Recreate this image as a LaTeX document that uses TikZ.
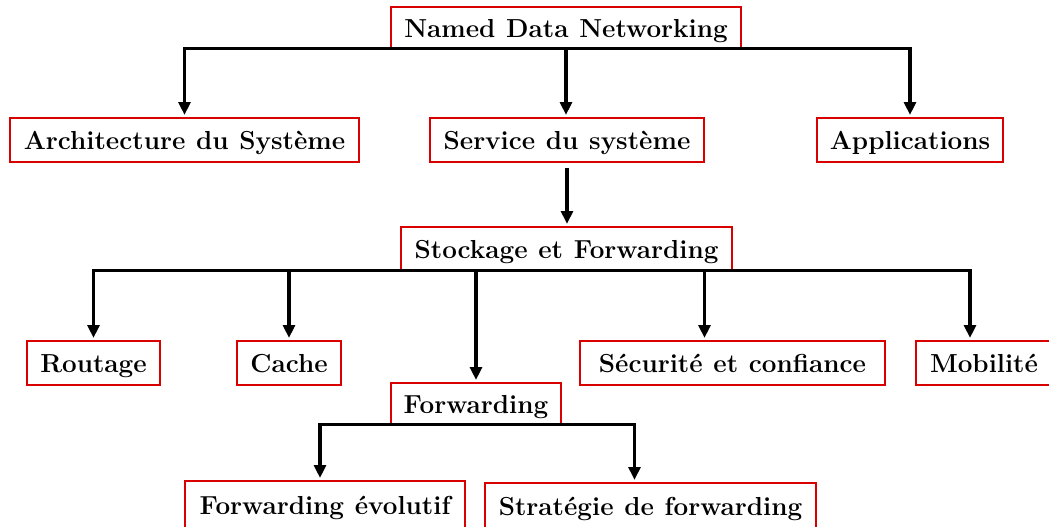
\documentclass[tikz,border=0pt]{standalone}
\usepackage{fontspec}
\usetikzlibrary{calc, arrows.meta, shadows}
\newcommand\boxfont{\fontsize{11.2}{13}\selectfont\bfseries\spaceskip=4.6pt\relax}

\begin{document}
\begin{tikzpicture}[x=0.43pt, y=-0.43pt]
    \tikzset{
      box/.style={draw=red!85!black, line width=0.6pt, fill=white, inner sep=0pt,
        minimum width=#1, minimum height=18.9pt, text height=8.3pt, text depth=0pt,
        drop shadow={shadow xshift=0.6pt, shadow yshift=-0.6pt, fill=black!40, opacity=0.5},
        font=\boxfont},
      link/.style={line width=1.4pt, -{Triangle[length=5.5pt, width=5pt]}, shorten >=1pt},
    }
    \useasboundingbox (0,0) rectangle (1049,527);

    % first level
    \node [box=150.5pt, minimum height=17.6pt] (ndn) at (566,27.5) {Named Data Networking};
    \node [box=150.1pt] (arch)  at (184.5,140) {Architecture du Système};
    \node [box=117.8pt] (serv)  at (567,140)   {Service du système};
    \node [box=80pt]    (appl)  at (910,140)   {Applications};

    % storage and forwarding
    \node [box=142.3pt, minimum height=18.5pt] (stock) at (566.5,248.5) {Stockage et Forwarding};
    \node [box=57.2pt]  (rout)  at (93.5,363)  {Routage};
    \node [box=44.7pt]  (cache) at (289,363)   {Cache};
    \node [box=131.2pt] (secu)  at (732.5,363) {Sécurité et confiance};
    \node [box=58.5pt]  (mob)   at (984,363)   {Mobilité};
    \node [box=73.1pt, minimum height=17.6pt] (fwd) at (476,403.5) {Forwarding};

    % forwarding
    \node [box=120.4pt, minimum height=20.6pt] (fevo)  at (325,505)   {Forwarding évolutif};
    \node [box=142.3pt, minimum height=19.8pt] (strat) at (650.5,506) {Stratégie de forwarding};

    \draw [link] (ndn.south) -| (arch.north);
    \draw [link] (ndn.south) -- (ndn.south |- serv.north);
    \draw [link] (ndn.south) -| (appl.north);
    \draw [link, shorten <=2.5pt] (serv.south) -- (serv.south |- stock.north);

    \draw [link] (stock.south) -| (rout.north);
    \draw [link] (stock.south) -| (cache.north);
    \draw [link] (stock.south) -| (fwd.north);
    \draw [link] (stock.south) -| ($ (secu.north) + (-28,0) $);
    \draw [link] (stock.south) -| ($ (mob.north) + (-14,0) $);

    \draw [link] (fwd.south) -| ($ (fevo.north) + (-5,0) $);
    \draw [link] (fwd.south) -| ($ (strat.north) + (-16,0) $);
\end{tikzpicture}
\end{document}
